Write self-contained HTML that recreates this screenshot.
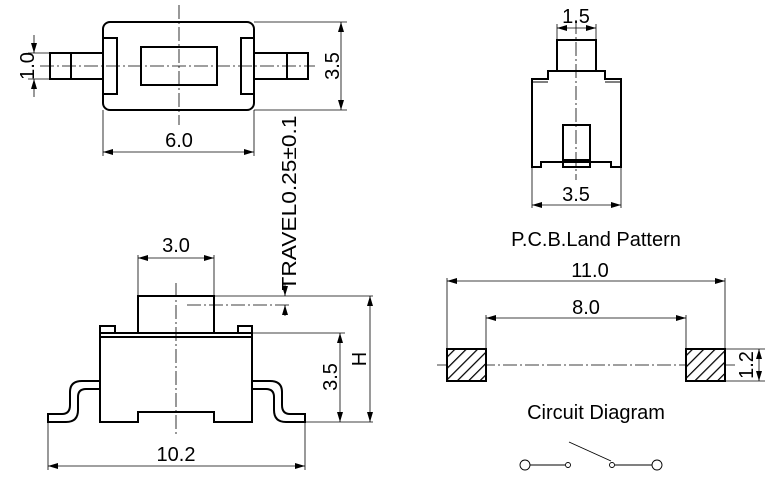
<!DOCTYPE html>
<html><head><meta charset="utf-8"><style>
html,body{margin:0;padding:0;background:#fff;}
svg{display:block;font-family:"Liberation Sans",Arial,sans-serif;}
</style></head><body>
<svg width="781" height="484" viewBox="0 0 781 484" xmlns="http://www.w3.org/2000/svg">
<defs>
<marker id="a" viewBox="0 0 10 6" refX="10" refY="3" markerWidth="10" markerHeight="6" orient="auto-start-reverse" markerUnits="userSpaceOnUse"><path d="M0,0 L10,3 L0,6 Z" fill="#000"/></marker>
<pattern id="h" width="8" height="8" patternUnits="userSpaceOnUse" patternTransform="rotate(45)"><rect width="8" height="8" fill="#fff"/><line x1="0" y1="0" x2="0" y2="8" stroke="#000" stroke-width="2.5"/></pattern>
</defs>
<g fill="none" stroke="#000">
<g stroke-width="0.8" stroke-dasharray="14,3,2,3">
<line x1="40" y1="66" x2="315" y2="66"/>
<line x1="179" y1="5" x2="179" y2="125"/>
<line x1="176" y1="283" x2="176" y2="435"/>
<line x1="187" y1="305" x2="290" y2="305"/>
<line x1="576" y1="20" x2="576" y2="180"/>
<line x1="437" y1="365" x2="735" y2="365"/>
</g>
<g stroke-width="2">
<rect x="103" y="22" width="151" height="88" rx="7"/>
<rect x="103" y="38" width="14" height="56"/>
<rect x="241" y="38" width="13" height="56"/>
<rect x="141" y="47" width="76" height="38"/>
<rect x="50" y="53" width="53" height="26"/>
<line x1="71" y1="53" x2="71" y2="79"/>
<rect x="254" y="53" width="54" height="26"/>
<line x1="287" y1="53" x2="287" y2="79"/>
</g>
<g stroke-width="0.8">
<line x1="254" y1="22" x2="347" y2="22"/><line x1="254" y1="110" x2="347" y2="110"/>
<line x1="341" y1="22" x2="341" y2="110" marker-start="url(#a)" marker-end="url(#a)"/>
<line x1="28" y1="53" x2="50" y2="53"/><line x1="28" y1="79" x2="50" y2="79"/>
<line x1="34" y1="35" x2="34" y2="53" marker-end="url(#a)"/><line x1="34" y1="97" x2="34" y2="79" marker-end="url(#a)"/>
<line x1="103" y1="110" x2="103" y2="156"/><line x1="254" y1="110" x2="254" y2="156"/>
<line x1="103" y1="152" x2="254" y2="152" marker-start="url(#a)" marker-end="url(#a)"/>
</g>
<g stroke-width="2">
<rect x="138" y="296" width="76" height="37"/>
<path d="M100,333 H252 V422 H214 V412 H138 V422 H100 Z"/>
<line x1="100" y1="337" x2="252" y2="337"/>
<path d="M100,333 V326 H115 V333 M238,333 V326 H252 V333"/>
<path d="M100,381 H82 Q70,381 70,392 V405 Q70,414 62,414 H48 V422 H66 Q78,422 78,410 V397 Q78,389 86,389 H100"/>
<path d="M252,381 H270 Q282,381 282,392 V405 Q282,414 290,414 H305 V422 H286 Q274,422 274,410 V397 Q274,389 266,389 H252"/>
</g>
<g stroke-width="0.8">
<line x1="214" y1="296" x2="373" y2="296"/>
<line x1="252" y1="333" x2="345" y2="333"/>
<line x1="305" y1="422" x2="373" y2="422"/>
<line x1="340" y1="333" x2="340" y2="422" marker-start="url(#a)" marker-end="url(#a)"/>
<line x1="370" y1="296" x2="370" y2="422" marker-start="url(#a)" marker-end="url(#a)"/>
<line x1="285" y1="283" x2="285" y2="296" marker-end="url(#a)"/>
<line x1="285" y1="316" x2="285" y2="305" marker-end="url(#a)"/>
<line x1="138" y1="255" x2="138" y2="296"/><line x1="214" y1="255" x2="214" y2="296"/>
<line x1="138" y1="258" x2="214" y2="258" marker-start="url(#a)" marker-end="url(#a)"/>
<line x1="48" y1="422" x2="48" y2="470"/><line x1="305" y1="422" x2="305" y2="470"/>
<line x1="48" y1="466" x2="305" y2="466" marker-start="url(#a)" marker-end="url(#a)"/>
</g>
<g stroke-width="2">
<rect x="557" y="40" width="39" height="31"/>
<path d="M548,71 H605 V79 H621 V167 H611 V162 H541 V167 H532 V79 H548 Z"/>
<line x1="533" y1="82" x2="548" y2="82" stroke-width="1"/><line x1="605" y1="82" x2="620" y2="82" stroke-width="1"/>
<rect x="563" y="125" width="27" height="42"/>
<line x1="563" y1="160" x2="590" y2="160"/>
</g>
<g stroke-width="0.8">
<line x1="557" y1="24" x2="557" y2="40"/><line x1="596" y1="24" x2="596" y2="40"/>
<line x1="557" y1="28" x2="596" y2="28" marker-start="url(#a)" marker-end="url(#a)"/>
<line x1="532" y1="167" x2="532" y2="208"/><line x1="621" y1="167" x2="621" y2="208"/>
<line x1="532" y1="205" x2="621" y2="205" marker-start="url(#a)" marker-end="url(#a)"/>
</g>
<rect x="447" y="349" width="39" height="32" fill="url(#h)" stroke-width="2"/>
<rect x="686" y="349" width="39" height="32" fill="url(#h)" stroke-width="2"/>
<g stroke-width="0.8">
<line x1="447" y1="278" x2="447" y2="349"/><line x1="725" y1="278" x2="725" y2="349"/>
<line x1="447" y1="281" x2="725" y2="281" marker-start="url(#a)" marker-end="url(#a)"/>
<line x1="486" y1="315" x2="486" y2="349"/><line x1="686" y1="315" x2="686" y2="349"/>
<line x1="486" y1="318" x2="686" y2="318" marker-start="url(#a)" marker-end="url(#a)"/>
<line x1="725" y1="349" x2="765" y2="349"/><line x1="725" y1="381" x2="765" y2="381"/>
<line x1="759" y1="349" x2="759" y2="381" marker-start="url(#a)" marker-end="url(#a)"/>
</g>
<g stroke-width="0.9">
<circle cx="525" cy="465" r="5"/><line x1="530" y1="465" x2="565" y2="465"/><circle cx="568" cy="465" r="2.5"/>
<line x1="569" y1="442" x2="611" y2="461"/>
<circle cx="612" cy="465" r="2.5"/><line x1="615" y1="465" x2="652" y2="465"/><circle cx="657" cy="465" r="5"/>
</g>
</g>
<g fill="#000" font-size="20" text-anchor="middle">
<text x="179" y="147">6.0</text>
<text x="176" y="252">3.0</text>
<text x="176" y="461">10.2</text>
<text x="576" y="23">1.5</text>
<text x="576" y="201">3.5</text>
<text x="590" y="277">11.0</text>
<text x="586" y="314">8.0</text>
<text x="596" y="246">P.C.B.Land Pattern</text>
<text x="596" y="419">Circuit Diagram</text>
<text transform="translate(339,66) rotate(-90)">3.5</text>
<text transform="translate(34,66) rotate(-90)">1.0</text>
<text transform="translate(337,377) rotate(-90)">3.5</text>
<text transform="translate(366,359) rotate(-90)">H</text>
<text transform="translate(753,365) rotate(-90)">1.2</text>
<text transform="translate(296,203) rotate(-90)" textLength="175" lengthAdjust="spacingAndGlyphs">TRAVEL0.25±0.1</text>
</g>
</svg>
</body></html>
